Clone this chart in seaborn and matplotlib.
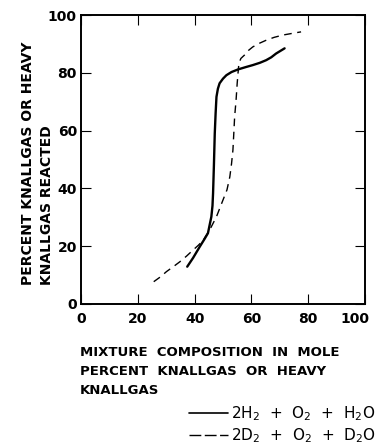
import matplotlib
matplotlib.use("Agg")
import matplotlib.pyplot as plt
import matplotlib.transforms as mtransforms
import seaborn as sns
import pandas as pd
from matplotlib.lines import Line2D

sns.set_theme(style="ticks")
plt.rcParams['font.family'] = ['DejaVu Sans']
plt.rcParams['text.color'] = 'black'
plt.rcParams['axes.labelcolor'] = 'black'
plt.rcParams['xtick.color'] = 'black'
plt.rcParams['ytick.color'] = 'black'

# H2 knallgas (solid)
h_x = [37.4, 39.5, 41.8, 43.5, 44.7, 45.9, 46.3, 46.5, 46.8, 47.1, 47.4, 47.7, 48.2, 48.8, 50.0, 51.2, 53.0, 55.3, 58.0, 60.5, 63.0, 65.2, 67.0, 68.7, 70.2, 71.7]
h_y = [12.9, 16.0, 19.8, 22.5, 24.5, 30.2, 34.0, 38.3, 48.0, 59.0, 66.0, 71.7, 74.5, 76.4, 78.0, 79.2, 80.3, 81.2, 82.0, 82.7, 83.5, 84.4, 85.4, 86.7, 87.6, 88.5]
# D2 heavy knallgas (dashed)
d_x = [25.6, 28.0, 30.1, 32.5, 34.8, 37.2, 39.5, 41.3, 43.0, 45.3, 47.7, 50.0, 51.4, 52.4, 53.0, 53.5, 53.8, 54.1, 54.6, 55.0, 55.3, 55.6, 56.3, 57.6, 59.0, 60.5, 62.7, 65.2, 68.0, 71.1, 74.5, 77.5]
d_y = [7.7, 9.4, 11.2, 12.9, 14.6, 16.6, 18.7, 20.3, 22.0, 25.6, 30.2, 36.0, 39.5, 44.0, 48.5, 53.3, 59.0, 64.8, 70.5, 76.4, 80.0, 83.3, 85.0, 86.2, 87.8, 89.0, 90.2, 91.3, 92.3, 93.1, 93.7, 94.2]

x_ticks = [0, 20, 40, 60, 80, 100]
y_ticks = [0, 20, 40, 60, 80, 100]
legend_labels = ["2H$_2$  +  O$_2$  +  H$_2$O", "2D$_2$  +  O$_2$  +  D$_2$O"]

df_h = pd.DataFrame({"x": h_x, "y": h_y})
df_d = pd.DataFrame({"x": d_x, "y": d_y})

fig = plt.figure(figsize=(3.77, 4.45), dpi=100)
ax = fig.add_axes([0.215, 0.317, 0.753, 0.649])

sns.lineplot(data=df_h, x="x", y="y", sort=False, ax=ax, color="black", lw=1.7)
sns.lineplot(data=df_d, x="x", y="y", sort=False, ax=ax, color="black", lw=1.0,
             dashes=False, linestyle=(0, (5.5, 4)))

ax.set_xlim(0, 100)
ax.set_ylim(0, 100)
ax.set_xticks(x_ticks)
ax.set_yticks(y_ticks)
ax.set_xticklabels([str(t) for t in x_ticks], fontsize=10, fontweight="bold")
ax.set_yticklabels([str(t) for t in y_ticks], fontsize=10, fontweight="bold")
ax.tick_params(axis="both", direction="in", length=7, width=0.8,
               top=True, right=True, colors="black")
ax.tick_params(axis="x", pad=6)
ax.tick_params(axis="y", pad=3)
# the narrow "1" of the original font pulls "100" left of its tick
last = ax.get_xticklabels()[-1]
last.set_transform(last.get_transform() +
                   mtransforms.ScaledTranslation(-7 / 72, 0, fig.dpi_scale_trans))
for s in ax.spines.values():
    s.set_linewidth(1.4)
    s.set_color("black")

ax.set_xlabel("")
ax.set_ylabel("")

fig.text(0.075, 0.36, "PERCENT KNALLGAS OR HEAVY", rotation=90, fontsize=10,
         fontweight="bold", ha="center", va="bottom")
fig.text(0.125, 0.36, "KNALLGAS REACTED", rotation=90, fontsize=10,
         fontweight="bold", ha="center", va="bottom")

fig.text(0.212, 0.222, "MIXTURE  COMPOSITION  IN  MOLE\nPERCENT  KNALLGAS  OR  HEAVY\nKNALLGAS",
         fontsize=9.5, fontweight="bold", ha="left", va="top", linespacing=1.6)

handles = [Line2D([], [], color="black", lw=1.2),
           Line2D([], [], color="black", lw=1.0, linestyle=(0, (8.5, 2.5)))]
fig.legend(handles, legend_labels, loc="lower right", bbox_to_anchor=(1.02, -0.02),
           frameon=False, fontsize=11, handlelength=2.6, handletextpad=0.15,
           labelspacing=0.2, borderaxespad=0.2)

fig.savefig("out.png", dpi=100)
